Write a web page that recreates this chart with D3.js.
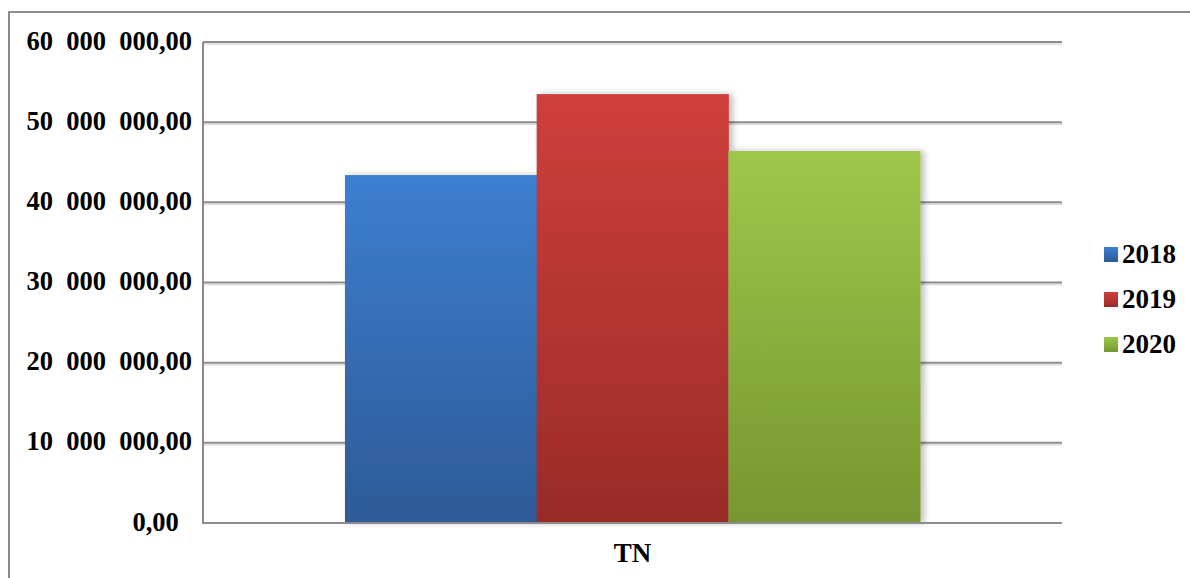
<!DOCTYPE html>
<html>
<head>
<meta charset="utf-8">
<script src="https://cdn.jsdelivr.net/npm/d3@7"></script>
<style>
  html, body { margin: 0; padding: 0; background: #fff; }
  svg { display: block; }
  text { font-family: "Liberation Serif", "Times New Roman", serif; font-weight: bold; fill: #000; }
</style>
</head>
<body>
<svg id="chart" width="1190" height="578"></svg>
<script>
// Category and series
const categories = ["TN"];
const seriesNames = ["2018", "2019", "2020"];
const seriesValues = [43400000, 53500000, 46400000];
const tickValues = [0, 10000000, 20000000, 30000000, 40000000, 50000000, 60000000];
const tickLabels = ["0,00\u00a0\u00a0", "10  000  000,00", "20  000  000,00", "30  000  000,00",
                    "40  000  000,00", "50  000  000,00", "60  000  000,00"];
const seriesColors = [
  { top: "#3d7fd0", bottom: "#2d5a96" },
  { top: "#ce3f3c", bottom: "#9a2b28" },
  { top: "#9ec84c", bottom: "#76962f" }
];

const svg = d3.select("#chart");
const W = 1190, H = 578;
const plot = { left: 203, right: 1062, top: 42, bottom: 523 };

const defs = svg.append("defs");
seriesColors.forEach((c, i) => {
  const g = defs.append("linearGradient")
    .attr("id", "grad" + i).attr("x1", 0).attr("y1", 0).attr("x2", 0).attr("y2", 1);
  g.append("stop").attr("offset", "0%").attr("stop-color", c.top);
  g.append("stop").attr("offset", "100%").attr("stop-color", c.bottom);
});
const shadow = defs.append("filter").attr("id", "barShadow")
  .attr("x", "-10%").attr("y", "-5%").attr("width", "130%").attr("height", "110%");
shadow.append("feGaussianBlur").attr("in", "SourceAlpha").attr("stdDeviation", 3).attr("result", "b");
shadow.append("feOffset").attr("in", "b").attr("dx", 4).attr("dy", 0).attr("result", "o");
shadow.append("feComponentTransfer").attr("in", "o").attr("result", "s")
  .append("feFuncA").attr("type", "linear").attr("slope", 0.25);
const merge = shadow.append("feMerge");
merge.append("feMergeNode").attr("in", "s");
merge.append("feMergeNode").attr("in", "SourceGraphic");

// Outer frame (top and left edges)
svg.append("path")
  .attr("d", `M9,${H} L9,12 L${W},12`)
  .attr("fill", "none").attr("stroke", "#8c8c8c").attr("stroke-width", 2);

const y = d3.scaleLinear().domain([0, 60000000]).range([plot.bottom, plot.top]);
const x0 = d3.scaleBand().domain(categories).range([plot.left, plot.right])
  .paddingInner(0.198).paddingOuter(0.198);
const x1 = d3.scaleBand().domain(seriesNames).range([0, x0.bandwidth()]).padding(0);

// Gridlines with a faint shadow underneath
const grid = svg.append("g");
grid.selectAll("line.sh").data(tickValues.slice(1)).join("line")
  .attr("class", "sh")
  .attr("x1", plot.left).attr("x2", plot.right)
  .attr("y1", d => y(d) + 2).attr("y2", d => y(d) + 2)
  .attr("stroke", "#dcdcdc").attr("stroke-width", 1.5);
grid.selectAll("line.gl").data(tickValues.slice(1)).join("line")
  .attr("class", "gl")
  .attr("x1", plot.left).attr("x2", plot.right)
  .attr("y1", d => y(d)).attr("y2", d => y(d))
  .attr("stroke", "#8c8c8c").attr("stroke-width", 2);

// Bars
const group = svg.append("g").attr("transform", `translate(${x0(categories[0])},0)`);
group.selectAll("rect").data(seriesValues).join("rect")
  .attr("x", (d, i) => x1(seriesNames[i]))
  .attr("width", x1.bandwidth() + 0.5)
  .attr("y", d => y(d))
  .attr("height", d => y(0) - y(d))
  .attr("fill", (d, i) => `url(#grad${i})`)
  .attr("filter", "url(#barShadow)");

// Axis lines
svg.append("path")
  .attr("d", `M${plot.left},${plot.top} L${plot.left},${plot.bottom} L${plot.right},${plot.bottom}`)
  .attr("fill", "none").attr("stroke", "#8c8c8c").attr("stroke-width", 2);

// Y axis labels
const yAxis = d3.axisLeft(y).tickValues(tickValues).tickSize(0).tickPadding(0)
  .tickFormat((d, i) => tickLabels[i]);
const ya = svg.append("g").attr("transform", "translate(192,0)").call(yAxis);
ya.select(".domain").remove();
ya.selectAll("text")
  .attr("font-family", null).attr("dy", null)
  .attr("y", 7)
  .style("font-size", "26.5px")
  .style("white-space", "pre");

// X axis label
const xAxis = d3.axisBottom(x0).tickSize(0).tickPadding(0);
const xa = svg.append("g").attr("transform", `translate(0,${plot.bottom})`).call(xAxis);
xa.select(".domain").remove();
xa.selectAll("text").attr("font-family", null).attr("dy", null)
  .attr("y", 39).style("font-size", "27px");

// Legend
const legend = svg.append("g").attr("transform", "translate(1104,247)");
const item = legend.selectAll("g").data(seriesNames).join("g")
  .attr("transform", (d, i) => `translate(0,${i * 45})`);
item.append("rect").attr("width", 14).attr("height", 15)
  .attr("fill", (d, i) => `url(#grad${i})`);
item.append("text").attr("x", 18).attr("y", 16)
  .style("font-size", "27px").text(d => d);
</script>
</body>
</html>
